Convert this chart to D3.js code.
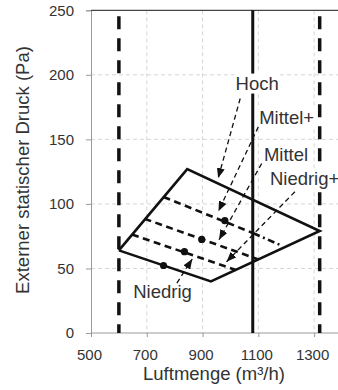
<!DOCTYPE html>
<html>
<head>
<meta charset="utf-8">
<script src="https://cdn.jsdelivr.net/npm/d3@7"></script>
<style>
  body { margin: 0; background: #fff; }
  svg { display: block; font-family: "Liberation Sans", Arial, sans-serif; }
</style>
</head>
<body>
<div id="chart"></div>
<script>
// axis ticks
const xTicks = [500, 700, 900, 1100, 1300];
const yTicks = [0, 50, 100, 150, 200, 250];

// operating envelope (solid polygon)
const envelopeX = [600, 845, 1320, 930, 600];
const envelopeY = [64, 127, 79, 40, 64];

// fan curves inside the envelope
const mittelPlusX = [760, 1082];
const mittelPlusY = [105.4, 77.3];
const mittelPlusTailX = [1082, 1180];
const mittelPlusTailY = [77.3, 68];
const mittelX = [692, 1100];
const mittelY = [88.5, 57];
const niedrigPlusX = [647, 1020];
const niedrigPlusY = [76.3, 48.8];

// limit lines
const limitDashed = [600, 1320];
const limitSolid = [1080];

// dots on the curves
const dotX = [760, 835, 897, 980];
const dotY = [52.3, 63, 72.5, 87];

// labels + arrows (data coordinates)
const labelText = ["Hoch", "Mittel+", "Mittel", "Niedrig+", "Niedrig"];
const labelX = [1018.5, 1103, 1120, 1141.5, 651.5];
const labelY = [188.6, 161.8, 133.4, 114.5, 27];
const arrowFromX = [1035, 1100, 1112, 1231, 808];
const arrowFromY = [181.7, 159.7, 131.3, 109.4, 38.7];
const arrowToX = [956, 957, 959, 986, 863];
const arrowToY = [120, 94.4, 72.2, 55.2, 57.3];

const width = 338, height = 390;

const svg = d3.select("#chart")
    .append("svg")
    .attr("width", width)
    .attr("height", height);

const x = d3.scaleLinear().domain([500, 1400]).range([91, 342]);
const y = d3.scaleLinear().domain([0, 250]).range([333, 10.3]);

const pts = (xs, ys) => xs.map((v, i) => [x(v), y(ys[i])]);
const line = d3.line();

// arrow marker
svg.append("defs").append("marker")
    .attr("id", "head")
    .attr("markerUnits", "userSpaceOnUse")
    .attr("viewBox", "0 0 10 8")
    .attr("refX", 10)
    .attr("refY", 4)
    .attr("markerWidth", 10)
    .attr("markerHeight", 8)
    .attr("orient", "auto")
    .append("path")
    .attr("d", "M0,0 L10,4 L0,8 Z")
    .attr("fill", "#111");

// gridlines
svg.append("g")
    .selectAll("line")
    .data(yTicks.filter(d => d > 0 && d < 250))
    .enter()
    .append("line")
    .attr("x1", x(500)).attr("x2", width)
    .attr("y1", d => y(d)).attr("y2", d => y(d))
    .attr("stroke", "#d6d6d6")
    .attr("stroke-dasharray", "4,3");

svg.append("g")
    .selectAll("line")
    .data(xTicks.filter(d => d > 500))
    .enter()
    .append("line")
    .attr("x1", d => x(d)).attr("x2", d => x(d))
    .attr("y1", y(250)).attr("y2", y(0))
    .attr("stroke", "#d6d6d6")
    .attr("stroke-dasharray", "4,3");

// axes
const xAxis = svg.append("g")
    .attr("transform", `translate(0,${y(0)})`)
    .call(d3.axisBottom(x).tickValues(xTicks).tickFormat(d3.format("d")).tickSize(4).tickPadding(12));
const yAxis = svg.append("g")
    .attr("transform", `translate(${x(500)},0)`)
    .call(d3.axisLeft(y).tickValues(yTicks).tickFormat(d3.format("d")).tickSize(5).tickPadding(12));

[xAxis, yAxis].forEach(g => {
    g.select(".domain").attr("stroke", "#999");
    g.selectAll(".tick line").attr("stroke", "#999");
    g.selectAll(".tick text")
        .attr("fill", "#333")
        .style("font-size", "15px")
        .style("font-family", "Liberation Sans, Arial, sans-serif");
});
xAxis.selectAll(".tick text").attr("dx", "-2");
xAxis.select(".domain").attr("d", `M${x(500)},0H${width}`);

// top border
svg.append("line")
    .attr("x1", x(500)).attr("x2", width)
    .attr("y1", y(250)).attr("y2", y(250))
    .attr("stroke", "#444")
    .attr("stroke-width", 1.2);

// limit lines
svg.append("g")
    .selectAll("line")
    .data(limitDashed)
    .enter()
    .append("line")
    .attr("x1", d => x(d)).attr("x2", d => x(d))
    .attr("y1", y(250)).attr("y2", y(0))
    .attr("stroke", "#111")
    .attr("stroke-width", 3.5)
    .attr("stroke-dasharray", "13,9")
    .attr("stroke-dashoffset", -6);

svg.append("g")
    .selectAll("line")
    .data(limitSolid)
    .enter()
    .append("line")
    .attr("x1", d => x(d)).attr("x2", d => x(d))
    .attr("y1", y(250)).attr("y2", y(0))
    .attr("stroke", "#111")
    .attr("stroke-width", 3);

// envelope
svg.append("path")
    .attr("d", line(pts(envelopeX, envelopeY)))
    .attr("fill", "none")
    .attr("stroke", "#111")
    .attr("stroke-width", 2.6)
    .attr("stroke-linejoin", "miter");

// fan curves
[[mittelPlusX, mittelPlusY], [mittelX, mittelY], [niedrigPlusX, niedrigPlusY]].forEach(c => {
    svg.append("path")
        .attr("d", line(pts(c[0], c[1])))
        .attr("fill", "none")
        .attr("stroke", "#111")
        .attr("stroke-width", 2.6)
        .attr("stroke-dasharray", "7,4.5");
});

svg.append("path")
    .attr("d", line(pts(mittelPlusTailX, mittelPlusTailY)))
    .attr("fill", "none")
    .attr("stroke", "#111")
    .attr("stroke-width", 2.6)
    .attr("stroke-dasharray", "7,3.5,2,3.5");

// dots
svg.append("g")
    .selectAll("circle")
    .data(dotX)
    .enter()
    .append("circle")
    .attr("cx", d => x(d))
    .attr("cy", (d, i) => y(dotY[i]))
    .attr("r", 3.6)
    .attr("fill", "#111");

// labels with white backgrounds
const labels = svg.append("g");
labelText.forEach((t, i) => {
    const txt = labels.append("text")
        .attr("x", x(labelX[i]))
        .attr("y", y(labelY[i]))
        .attr("fill", "#333")
        .style("font-size", "18.5px")
        .text(t);
    const bb = txt.node().getBBox();
    labels.insert("rect", "text")
        .attr("x", bb.x - 1)
        .attr("y", bb.y + 1)
        .attr("width", bb.width + 2)
        .attr("height", bb.height - 1)
        .attr("fill", "#fff");
});

// arrows
svg.append("g")
    .selectAll("line")
    .data(arrowFromX)
    .enter()
    .append("line")
    .attr("x1", d => x(d))
    .attr("y1", (d, i) => y(arrowFromY[i]))
    .attr("x2", (d, i) => x(arrowToX[i]))
    .attr("y2", (d, i) => y(arrowToY[i]))
    .attr("stroke", "#111")
    .attr("stroke-width", 1.3)
    .attr("stroke-dasharray", "5,3.5")
    .attr("marker-end", "url(#head)");

// axis titles
svg.append("text")
    .attr("x", 214)
    .attr("y", 380)
    .attr("text-anchor", "middle")
    .attr("fill", "#333")
    .style("font-size", "18.5px")
    .text("Luftmenge (m³/h)");

svg.append("text")
    .attr("transform", "translate(28.5,170) rotate(-90)")
    .attr("text-anchor", "middle")
    .attr("fill", "#333")
    .style("font-size", "18.5px")
    .text("Externer statischer Druck (Pa)");
</script>
</body>
</html>
